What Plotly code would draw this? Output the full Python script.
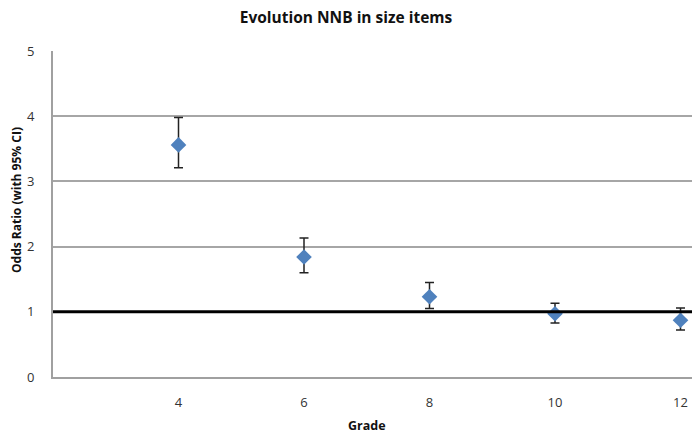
import plotly.graph_objects as go

grades = [4, 6, 8, 10, 12]
odds_ratio = [3.56, 1.84, 1.23, 0.97, 0.87]
ci_low = [3.21, 1.60, 1.05, 0.83, 0.72]
ci_high = [3.98, 2.13, 1.45, 1.13, 1.06]
x_ticks = [4, 6, 8, 10, 12]
y_ticks = [0, 1, 2, 3, 4, 5]
reference_value = 1

W, H = 692, 438
L, R, T, B = 53, 0, 51, 61
pw, ph = W - L - R, H - T - B

err_plus = [h - v for h, v in zip(ci_high, odds_ratio)]
err_minus = [v - l for v, l in zip(odds_ratio, ci_low)]

FONT = "Open Sans"

fig = go.Figure()
fig.add_trace(go.Scatter(
    x=grades, y=odds_ratio, mode="markers",
    marker=dict(symbol="diamond", size=12, color="#4F81BD"),
    error_y=dict(type="data", symmetric=False, array=err_plus, arrayminus=err_minus,
                 color="#222222", thickness=1.5, width=4.5),
    showlegend=False,
))

fig.add_shape(type="line", xref="paper", yref="y", x0=0, x1=1,
              y0=reference_value, y1=reference_value,
              line=dict(color="black", width=3))

fig.update_layout(
    width=W, height=H,
    margin=dict(l=L, r=R, t=T, b=B),
    paper_bgcolor="white", plot_bgcolor="white",
    font=dict(family=FONT, color="#333333", size=13),
    title=dict(text="<b>Evolution NNB in size items</b>", xref="container", x=0.5,
               xanchor="center", y=1 - 18 / H, yanchor="middle",
               font=dict(family=FONT, size=15.5, color="#111111")),
    xaxis=dict(range=[2, 2 + pw / 62.75], tickvals=x_ticks, showgrid=False,
               zeroline=False, showline=True, linecolor="#A0A0A0", linewidth=2,
               ticks="", ticklabelstandoff=12, tickfont=dict(size=13)),
    yaxis=dict(range=[0, 5], tickvals=y_ticks, showgrid=True, gridcolor="#A6A6A6",
               gridwidth=1.5, zeroline=False, showline=True, linecolor="#A0A0A0",
               linewidth=2, ticks="", ticklabelstandoff=14, tickfont=dict(size=13)),
    annotations=[
        dict(text="<b>Grade</b>", xref="paper", yref="paper",
             x=(367 - L) / pw, y=-(425 - (T + ph)) / ph, xanchor="center", yanchor="middle",
             showarrow=False, font=dict(family=FONT, size=12.5, color="#111111")),
        dict(text="<b>Odds Ratio (with 95% CI)</b>", xref="paper", yref="paper",
             x=(16 - L) / pw, y=1 - (200 - T) / ph, xanchor="center", yanchor="middle",
             textangle=-90, showarrow=False,
             font=dict(family=FONT, size=12, color="#111111")),
    ],
)

fig.write_html("out.html")
